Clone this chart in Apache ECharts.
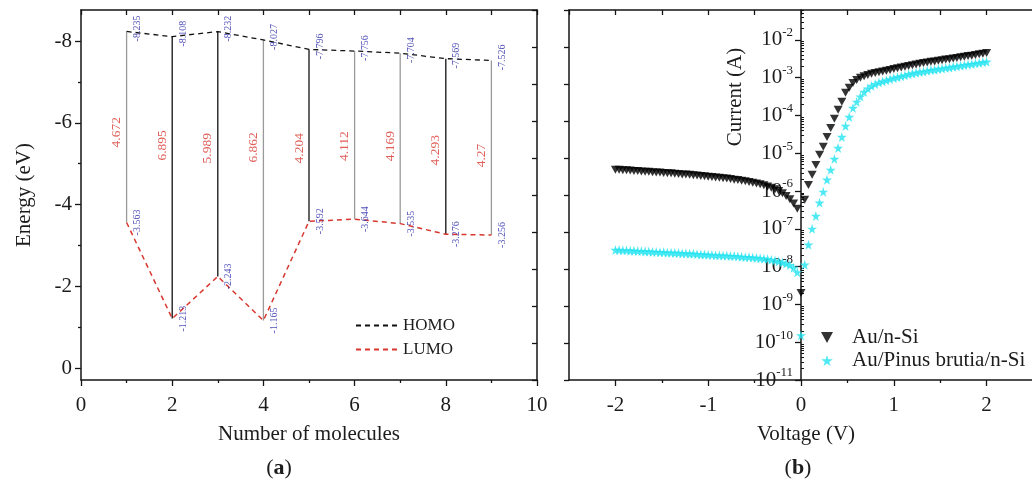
<!DOCTYPE html>
<html><head><meta charset="utf-8">
<script src="https://cdn.jsdelivr.net/npm/echarts@6/dist/echarts.min.js"></script>
<style>html,body{margin:0;padding:0;background:#fff}#c{width:1032px;height:485px}</style>
</head><body><div id="c"></div>
<script>
// ---------------- DATA ----------------
// Panel (a): HOMO / LUMO energies vs number of molecules
const MOLECULES = [1, 2, 3, 4, 5, 6, 7, 8, 9];
const HOMO = [-8.235, -8.108, -8.232, -8.027, -7.796, -7.756, -7.704, -7.569, -7.526];
const LUMO = [-3.563, -1.213, -2.243, -1.165, -3.592, -3.644, -3.535, -3.276, -3.256];
const GAP_TEXT = ['4.672', '6.895', '5.989', '6.862', '4.204', '4.112', '4.169', '4.293', '4.27'];
const ENERGY_TICKS = [-8, -6, -4, -2, 0];

// Panel (b): I-V, current given as log10(I / A)
const VOLTAGE = [
  -2.00,-1.96,-1.92,-1.88,-1.84,-1.80,-1.76,-1.72,-1.68,-1.64,
  -1.60,-1.56,-1.52,-1.48,-1.44,-1.40,-1.36,-1.32,-1.28,-1.24,
  -1.20,-1.16,-1.12,-1.08,-1.04,-1.00,-0.96,-0.92,-0.88,-0.84,
  -0.80,-0.76,-0.72,-0.68,-0.64,-0.60,-0.56,-0.52,-0.48,-0.44,
  -0.40,-0.36,-0.32,-0.28,-0.24,-0.20,-0.16,-0.12,-0.08,-0.04,
  0.00,
  0.04,0.08,0.12,0.16,0.20,0.24,0.28,0.32,0.36,0.40,
  0.44,0.48,0.52,0.56,0.60,0.64,0.68,0.72,0.76,0.80,
  0.84,0.88,0.92,0.96,1.00,1.04,1.08,1.12,1.16,1.20,
  1.24,1.28,1.32,1.36,1.40,1.44,1.48,1.52,1.56,1.60,
  1.64,1.68,1.72,1.76,1.80,1.84,1.88,1.92,1.96,2.00
];
const LOG_I_AU_NSI = [
  -5.44,-5.44,-5.45,-5.45,-5.46,-5.47,-5.47,-5.48,-5.49,-5.49,
  -5.50,-5.51,-5.51,-5.52,-5.53,-5.53,-5.54,-5.55,-5.56,-5.56,
  -5.57,-5.58,-5.59,-5.60,-5.61,-5.62,-5.63,-5.64,-5.65,-5.66,
  -5.67,-5.68,-5.70,-5.71,-5.73,-5.74,-5.76,-5.78,-5.80,-5.82,
  -5.85,-5.88,-5.91,-5.95,-6.00,-6.06,-6.13,-6.22,-6.33,-6.47,
  -8.70,
  -6.23,-5.84,-5.57,-5.31,-5.04,-4.83,-4.57,-4.33,-4.09,-3.85,
  -3.64,-3.40,-3.27,-3.14,-3.06,-3.00,-2.96,-2.93,-2.90,-2.88,
  -2.86,-2.84,-2.82,-2.80,-2.77,-2.75,-2.73,-2.71,-2.69,-2.67,
  -2.65,-2.63,-2.61,-2.60,-2.58,-2.57,-2.55,-2.54,-2.52,-2.51,
  -2.49,-2.48,-2.46,-2.45,-2.43,-2.42,-2.40,-2.38,-2.37,-2.35
];
const LOG_I_AU_PB_NSI = [
  -7.56,-7.56,-7.57,-7.57,-7.58,-7.58,-7.59,-7.59,-7.60,-7.60,
  -7.61,-7.61,-7.62,-7.62,-7.63,-7.63,-7.64,-7.64,-7.65,-7.65,
  -7.66,-7.66,-7.67,-7.68,-7.68,-7.69,-7.69,-7.70,-7.70,-7.71,
  -7.71,-7.72,-7.72,-7.73,-7.74,-7.75,-7.75,-7.76,-7.77,-7.78,
  -7.79,-7.80,-7.82,-7.84,-7.86,-7.89,-7.92,-7.96,-8.03,-8.15,
  -9.82,
  -7.95,-7.42,-7.00,-6.66,-6.31,-6.02,-5.70,-5.44,-5.15,-4.86,
  -4.57,-4.28,-4.04,-3.80,-3.64,-3.50,-3.38,-3.29,-3.22,-3.17,
  -3.13,-3.10,-3.07,-3.04,-3.01,-2.99,-2.96,-2.94,-2.91,-2.89,
  -2.87,-2.85,-2.84,-2.82,-2.80,-2.79,-2.77,-2.76,-2.74,-2.73,
  -2.71,-2.70,-2.68,-2.67,-2.65,-2.64,-2.62,-2.61,-2.59,-2.58
];
const DECADES = [-11, -10, -9, -8, -7, -6, -5, -4, -3, -2];
const VOLT_TICKS = [-2, -1, 0, 1, 2];

// ---------------- LAYOUT / STYLE ----------------
const FONT = 'Liberation Serif';
const TXT = '#1c1c1c';
const AX = { color: '#151515', width: 1.5 };
const TK = { color: '#151515', width: 1.3 };
const G0 = { left: 81, top: 10, width: 456, height: 370 };
const G1 = { left: 569, top: 10, width: 464, height: 370 };
const E_MIN = -8.76, E_MAX = 0.29;
const X1_MIN = -2.5, X1_MAX = 2.5;
const L_MIN = -11, L_MAX = -1.21;
const GAP_LABEL_Y = [-5.77, -5.45, -5.38, -5.40, -5.38, -5.43, -5.43, -5.33, -5.2];
const VLINE_COLORS = ['#9a9a9a', '#111', '#111', '#9a9a9a', '#111', '#9a9a9a', '#9a9a9a', '#111', '#9a9a9a'];
const TRI = 'path://M0,0 L10,0 L5,9 Z';
const STAR = 'path://M50,0 L61,35 L98,35 L68,57 L79,91 L50,70 L21,91 L32,57 L2,35 L39,35 Z';
const CYAN = '#22e3f0';
const RED = '#d8362e';
const BLUE = '#2424a8';
const innerOffset = -(0 - X1_MIN) / (X1_MAX - X1_MIN) * G1.width;

const minorLog = [];
for (let n = -11; n <= -2; n++) {
  for (let k = 2; k <= 9; k++) {
    const v = n + Math.log10(k);
    if (v < L_MAX) minorLog.push(v);
  }
}

const txtStyle = (size) => ({ fontFamily: FONT, fontSize: size, color: TXT });
const pts = (xs, ys) => xs.map((x, i) => [x, ys[i]]);

const option = {
  animation: false,
  backgroundColor: '#fff',
  grid: [
    Object.assign({ outerBoundsMode: 'none', containLabel: false }, G0),
    Object.assign({ outerBoundsMode: 'none', containLabel: false }, G1)
  ],
  xAxis: [
    { gridIndex: 0, type: 'value', min: 0, max: 10, interval: 2, position: 'bottom',
      axisLine: { onZero: false, lineStyle: AX },
      axisTick: { length: 6, lineStyle: TK },
      minorTick: { show: true, splitNumber: 2, length: 3, lineStyle: TK },
      axisLabel: Object.assign({ margin: 15 }, txtStyle(21)),
      splitLine: { show: false },
      name: 'Number of molecules', nameLocation: 'middle', nameGap: 44, nameTextStyle: txtStyle(21) },
    { gridIndex: 0, type: 'value', min: 0, max: 10, interval: 1, position: 'top',
      axisLine: { onZero: false, lineStyle: AX },
      axisTick: { inside: true, length: 5, lineStyle: TK },
      axisLabel: { show: false }, splitLine: { show: false } },
    { gridIndex: 1, type: 'value', min: X1_MIN, max: X1_MAX, position: 'bottom',
      axisLine: { onZero: false, lineStyle: AX },
      axisTick: { length: 6, lineStyle: TK, customValues: VOLT_TICKS },
      axisLabel: Object.assign({ margin: 15, customValues: VOLT_TICKS }, txtStyle(21)),
      splitLine: { show: false },
      name: 'Voltage (V)', nameLocation: 'middle', nameGap: 44, nameTextStyle: Object.assign({ padding: [0, 0, 0, 10] }, txtStyle(21)) },
    { gridIndex: 1, type: 'value', min: X1_MIN, max: X1_MAX, interval: 0.5, position: 'top',
      axisLine: { onZero: false, lineStyle: AX },
      axisTick: { inside: true, length: 5, lineStyle: TK },
      axisLabel: { show: false }, splitLine: { show: false } },
    { gridIndex: 1, type: 'value', min: X1_MIN, max: X1_MAX, position: 'bottom',
      axisLine: { show: false, onZero: false },
      axisTick: { length: 3, lineStyle: TK, customValues: [-1.5, -0.5, 0.5, 1.5] },
      axisLabel: { show: false }, splitLine: { show: false } }
  ],
  yAxis: [
    { gridIndex: 0, type: 'value', inverse: true, min: E_MIN, max: E_MAX, position: 'left',
      axisLine: { onZero: false, lineStyle: AX },
      axisTick: { length: 6, lineStyle: TK, customValues: ENERGY_TICKS },
      axisLabel: Object.assign({ margin: 9, customValues: ENERGY_TICKS }, txtStyle(21)),
      splitLine: { show: false },
      name: 'Energy (eV)', nameLocation: 'middle', nameGap: 46, nameTextStyle: txtStyle(21) },
    { gridIndex: 0, type: 'value', inverse: true, min: E_MIN, max: E_MAX, position: 'left',
      axisLine: { show: false, onZero: false },
      axisTick: { length: 3, lineStyle: TK, customValues: [-7, -5, -3, -1] },
      axisLabel: { show: false }, splitLine: { show: false } },
    { gridIndex: 0, type: 'value', min: 0, max: 10, interval: 1, position: 'right',
      axisLine: { onZero: false, lineStyle: AX },
      axisTick: { inside: true, length: 5, lineStyle: TK },
      axisLabel: { show: false }, splitLine: { show: false } },
    { gridIndex: 1, type: 'value', min: L_MIN, max: L_MAX, position: 'left', offset: innerOffset,
      axisLine: { onZero: false, lineStyle: AX },
      axisTick: { length: 6, lineStyle: TK, customValues: DECADES },
      axisLabel: {
        margin: 8, customValues: DECADES, fontFamily: FONT, color: TXT,
        formatter: v => '{b|10}{s|' + v + '}',
        rich: {
          b: { fontFamily: FONT, fontSize: 21, color: TXT },
          s: { fontFamily: FONT, fontSize: 13, color: TXT, padding: [0, 0, 14, 0] }
        }
      },
      splitLine: { show: false } },
    { gridIndex: 1, type: 'value', min: L_MIN, max: L_MAX, position: 'left', offset: innerOffset,
      axisLine: { show: false, onZero: false },
      axisTick: { inside: true, length: 3, lineStyle: { color: '#151515', width: 1 }, customValues: minorLog },
      axisLabel: { show: false }, splitLine: { show: false } },
    { gridIndex: 1, type: 'value', min: 0, max: 10, interval: 1, position: 'left',
      axisLine: { onZero: false, lineStyle: AX },
      axisTick: { length: 5, lineStyle: TK },
      axisLabel: { show: false }, splitLine: { show: false } }
  ],
  legend: [
    { data: ['HOMO', 'LUMO'], left: 355, top: 317, orient: 'vertical', padding: 0,
      itemWidth: 42, itemHeight: 12, itemGap: 7, textStyle: txtStyle(17), selectedMode: false,
      itemStyle: { opacity: 0 } },
    { data: [{ name: 'Au/n-Si', icon: TRI }, { name: 'Au/Pinus brutia/n-Si', icon: STAR }],
      left: 821, top: 327, orient: 'vertical', padding: 0,
      itemWidth: 12, itemHeight: 11, itemGap: 2, selectedMode: false,
      textStyle: Object.assign({ padding: [0, 0, 0, 14] }, txtStyle(21)) }
  ],
  graphic: [
    { type: 'text', x: 279, y: 468, style: { text: '({b|a})', fontFamily: FONT, fontSize: 22, fill: TXT,
      align: 'center', verticalAlign: 'middle',
      rich: { b: { fontFamily: FONT, fontSize: 22, fontWeight: 'bold', fill: TXT } } } },
    { type: 'text', x: 798, y: 468, style: { text: '({b|b})', fontFamily: FONT, fontSize: 22, fill: TXT,
      align: 'center', verticalAlign: 'middle',
      rich: { b: { fontFamily: FONT, fontSize: 22, fontWeight: 'bold', fill: TXT } } } },
    { type: 'text', x: 735, y: 97, rotation: Math.PI / 2, style: { text: 'Current (A)', fontFamily: FONT, fontSize: 21, fill: TXT,
      align: 'center', verticalAlign: 'middle' } }
  ],
  series: [
    { type: 'custom', xAxisIndex: 0, yAxisIndex: 0, silent: true, z: 2,
      data: MOLECULES.map((m, i) => [m, HOMO[i], LUMO[i]]),
      encode: { x: 0, y: [1, 2] },
      renderItem: (params, api) => {
        const a = api.coord([api.value(0), api.value(1)]);
        const b = api.coord([api.value(0), api.value(2)]);
        return { type: 'line', shape: { x1: a[0], y1: a[1], x2: b[0], y2: b[1] },
          style: { stroke: VLINE_COLORS[params.dataIndex], lineWidth: 1.3 } };
      } },
    { type: 'line', name: 'HOMO', xAxisIndex: 0, yAxisIndex: 0, data: pts(MOLECULES, HOMO),
      symbol: 'none', z: 3, lineStyle: { color: '#111', width: 1.3, type: [5, 4] }, itemStyle: { color: '#111' } },
    { type: 'line', name: 'LUMO', xAxisIndex: 0, yAxisIndex: 0, data: pts(MOLECULES, LUMO),
      symbol: 'none', z: 3, lineStyle: { color: RED, width: 1.5, type: [5, 4] }, itemStyle: { color: RED } },
    { type: 'scatter', xAxisIndex: 0, yAxisIndex: 0, data: pts(MOLECULES, HOMO), silent: true, z: 4,
      symbolSize: 1, itemStyle: { color: 'rgba(0,0,0,0)' },
      label: { show: true, position: 'inside', rotate: 90, offset: [3, 11], formatter: p => String(p.value[1]),
        fontFamily: FONT, fontSize: 10, color: BLUE } },
    { type: 'scatter', xAxisIndex: 0, yAxisIndex: 0, data: pts(MOLECULES, LUMO), silent: true, z: 4,
      symbolSize: 1, itemStyle: { color: 'rgba(0,0,0,0)' },
      label: { show: true, position: 'inside', rotate: 90, offset: [0, 11], formatter: p => String(p.value[1]),
        fontFamily: FONT, fontSize: 10, color: BLUE } },
    { type: 'scatter', xAxisIndex: 0, yAxisIndex: 0, data: pts(MOLECULES, GAP_LABEL_Y), silent: true, z: 4,
      symbolSize: 1, itemStyle: { color: 'rgba(0,0,0,0)' },
      label: { show: true, position: 'inside', rotate: 90, offset: [0, -10], formatter: p => GAP_TEXT[p.dataIndex],
        fontFamily: FONT, fontSize: 13.5, color: RED } },
    { type: 'scatter', name: 'Au/n-Si', xAxisIndex: 2, yAxisIndex: 3, data: pts(VOLTAGE, LOG_I_AU_NSI),
      symbol: TRI, symbolSize: [9, 8], itemStyle: { color: '#000' }, z: 3 },
    { type: 'scatter', name: 'Au/Pinus brutia/n-Si', xAxisIndex: 2, yAxisIndex: 3, data: pts(VOLTAGE, LOG_I_AU_PB_NSI),
      symbol: STAR, symbolSize: 10, itemStyle: { color: CYAN }, z: 4 }
  ]
};

const chart = echarts.init(document.getElementById('c'), null, { renderer: 'canvas' });
chart.setOption(option);
</script></body></html>
